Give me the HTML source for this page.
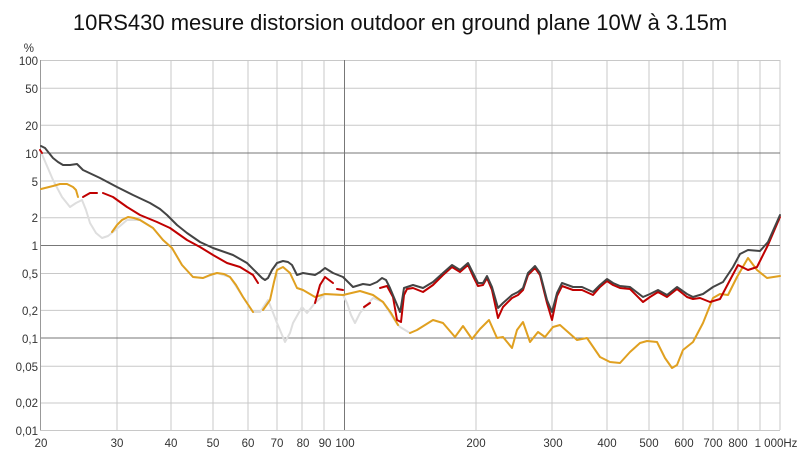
<!DOCTYPE html>
<html><head><style>
body{margin:0;background:#fff;width:800px;height:454px;overflow:hidden;font-family:"Liberation Sans","DejaVu Sans",sans-serif;}
</style></head><body>
<svg width="800" height="454" xmlns="http://www.w3.org/2000/svg" font-family="Liberation Sans, DejaVu Sans, sans-serif">
<rect width="800" height="454" fill="#fff"/>
<text x="400" y="30" text-anchor="middle" font-size="22" fill="#111">10RS430 mesure distorsion outdoor en ground plane 10W à 3.15m</text>
<g stroke="#c8c8c8" stroke-width="1">
<line x1="40" y1="60.5" x2="780" y2="60.5"/>
<line x1="40" y1="88.3" x2="780" y2="88.3"/>
<line x1="40" y1="125.2" x2="780" y2="125.2"/>
<line x1="40" y1="181" x2="780" y2="181"/>
<line x1="40" y1="217.8" x2="780" y2="217.8"/>
<line x1="40" y1="273.5" x2="780" y2="273.5"/>
<line x1="40" y1="310.4" x2="780" y2="310.4"/>
<line x1="40" y1="366.2" x2="780" y2="366.2"/>
<line x1="40" y1="403" x2="780" y2="403"/>
<line x1="40" y1="430.5" x2="780" y2="430.5"/>
<line x1="117" y1="60" x2="117" y2="430"/><line x1="171" y1="60" x2="171" y2="430"/>
<line x1="213" y1="60" x2="213" y2="430"/><line x1="248" y1="60" x2="248" y2="430"/>
<line x1="277" y1="60" x2="277" y2="430"/><line x1="302" y1="60" x2="302" y2="430"/>
<line x1="324" y1="60" x2="324" y2="430"/>
<line x1="476" y1="60" x2="476" y2="430"/><line x1="552" y1="60" x2="552" y2="430"/>
<line x1="607" y1="60" x2="607" y2="430"/><line x1="649" y1="60" x2="649" y2="430"/>
<line x1="683" y1="60" x2="683" y2="430"/><line x1="713" y1="60" x2="713" y2="430"/>
<line x1="738" y1="60" x2="738" y2="430"/><line x1="760" y1="60" x2="760" y2="430"/>
<line x1="780" y1="60" x2="780" y2="430"/>
</g>
<g stroke="#777" stroke-width="1">
<line x1="40" y1="153" x2="780" y2="153"/>
<line x1="40" y1="245.5" x2="780" y2="245.5"/>
<line x1="40" y1="338" x2="780" y2="338"/>
<line x1="344.5" y1="60" x2="344.5" y2="430"/>
</g>
<line x1="40.5" y1="60" x2="40.5" y2="430" stroke="#999"/>
<g font-size="11.5" fill="#333" text-anchor="end">
<text x="34" y="52">%</text>
<text x="38" y="65">100</text><text x="38" y="93">50</text><text x="38" y="130">20</text>
<text x="38" y="158">10</text><text x="38" y="186">5</text><text x="38" y="222">2</text>
<text x="38" y="250">1</text><text x="38" y="278">0,5</text><text x="38" y="315">0,2</text>
<text x="38" y="343">0,1</text><text x="38" y="371">0,05</text><text x="38" y="407">0,02</text>
<text x="38" y="435">0,01</text>
</g>
<g font-size="11.5" fill="#333" text-anchor="middle">
<text x="41" y="447">20</text><text x="117" y="447">30</text><text x="171" y="447">40</text>
<text x="213" y="447">50</text><text x="248" y="447">60</text><text x="277" y="447">70</text>
<text x="303" y="447">80</text><text x="325" y="447">90</text><text x="345" y="447">100</text>
<text x="476" y="447">200</text><text x="553" y="447">300</text><text x="607" y="447">400</text>
<text x="649" y="447">500</text><text x="684" y="447">600</text><text x="713" y="447">700</text>
<text x="738" y="447">800</text><text x="776" y="447">1 000Hz</text>
</g>
<g fill="none" stroke-width="2" stroke-linejoin="round" stroke-linecap="round">
<polyline stroke="#dedede" points="41,152 53,180 62,197 70,207 76,203 82,200 86,210 90,223 96,233 102,238 108,236 113,232 120,226 127,220 140,220 153,228 163,240 172,248 182,265 193,277 203,278 217,273 230,277 243,297 253,312 260,312 268,300 272,310 277,323 285,342 290,333 293,323 302,307 307,313 315,303 325,294 343,295 347,303 351,315 355,323 360,313 365,307 373,298 383,302 390,313 398,325 400,327 410,333"/>
<polyline stroke="#e0a020" points="41,189 53,186 60,184 67,184 73,187 76,190 78,197"/>
<polyline stroke="#e0a020" points="112,232 117,225 122,220 128,217 134,218 140,220 153,228 163,240 172,248 182,265 193,277 203,278 210,275 217,273 224,274 230,277 236,285 243,297 253,312"/>
<polyline stroke="#e0a020" points="263,310 270,300 274,282 277,270 283,267 290,273 297,288 303,290 315,297 325,294 343,295 360,291 373,295 383,302 391,313 398,325"/>
<polyline stroke="#e0a020" points="410,333 417,330 433,320 443,323 455,337 463,326 472,339 480,329 489,320 497,338 503,337 512,348 517,330 523,322 530,342 538,332 545,337 553,327 560,325 577,340 587,338 600,357 610,362 620,363 630,352 640,343 647,341 657,342 665,358 672,368 677,365 683,350 693,342 703,323 713,298 720,294 728,295 737,277 748,258 757,270 767,278 780,276"/>
<polyline stroke="#c00000" points="40,150 42,153"/>
<polyline stroke="#c00000" points="83,197 90,193 97,193"/>
<polyline stroke="#c00000" points="103,193 113,197 127,207 140,215 157,222 170,228 187,240 200,247 213,255 227,263 240,267 253,275 258,283"/>
<polyline stroke="#c00000" points="315,303 320,285 325,277 333,283"/>
<polyline stroke="#c00000" points="337,289 343,290"/>
<polyline stroke="#c00000" points="364,307 370,303"/>
<polyline stroke="#c00000" points="380,288 387,286 393,297 397,320 401,322 404,295 407,289 413,288 423,292 433,285 443,275 452,267 460,272 468,265 473,276 478,286 483,285 487,278 492,290 498,318 503,307 512,298 518,295 523,290 528,275 535,268 540,275 547,303 552,320 557,296 562,286 573,290 582,290 593,295 600,287 607,281 613,285 620,288 630,289 643,302 650,297 658,292 667,297 677,289 687,297 693,299 700,298 710,302 720,299 730,280 738,265 748,270 757,267 768,245 780,217"/>
<polyline stroke="#444" points="41,146 45,148 49,153 53,158 58,162 63,165 70,165 77,164 80,167 83,170 100,178 117,187 133,195 150,203 160,209 167,215 177,225 187,233 200,242 213,248 233,255 247,263 257,273 262,278 265,280 268,278 272,270 277,263 283,261 288,262 292,265 297,275 303,273 315,275 320,272 325,268 333,273 343,277 353,287 363,284 370,285 377,282 382,278 386,280 390,288 395,300 400,312 401,307 404,288 413,285 423,288 433,282 443,273 452,265 460,270 468,263 473,273 478,283 483,283 487,276 492,287 498,308 503,303 512,295 518,292 523,288 528,273 535,266 540,273 547,300 552,312 557,293 562,283 573,287 582,287 593,292 600,285 607,279 613,283 620,286 630,287 643,297 650,294 658,290 667,295 677,287 687,294 693,297 703,294 713,287 723,282 733,267 740,254 748,250 760,251 768,242 780,215"/>
</g>
</svg>
</body></html>
